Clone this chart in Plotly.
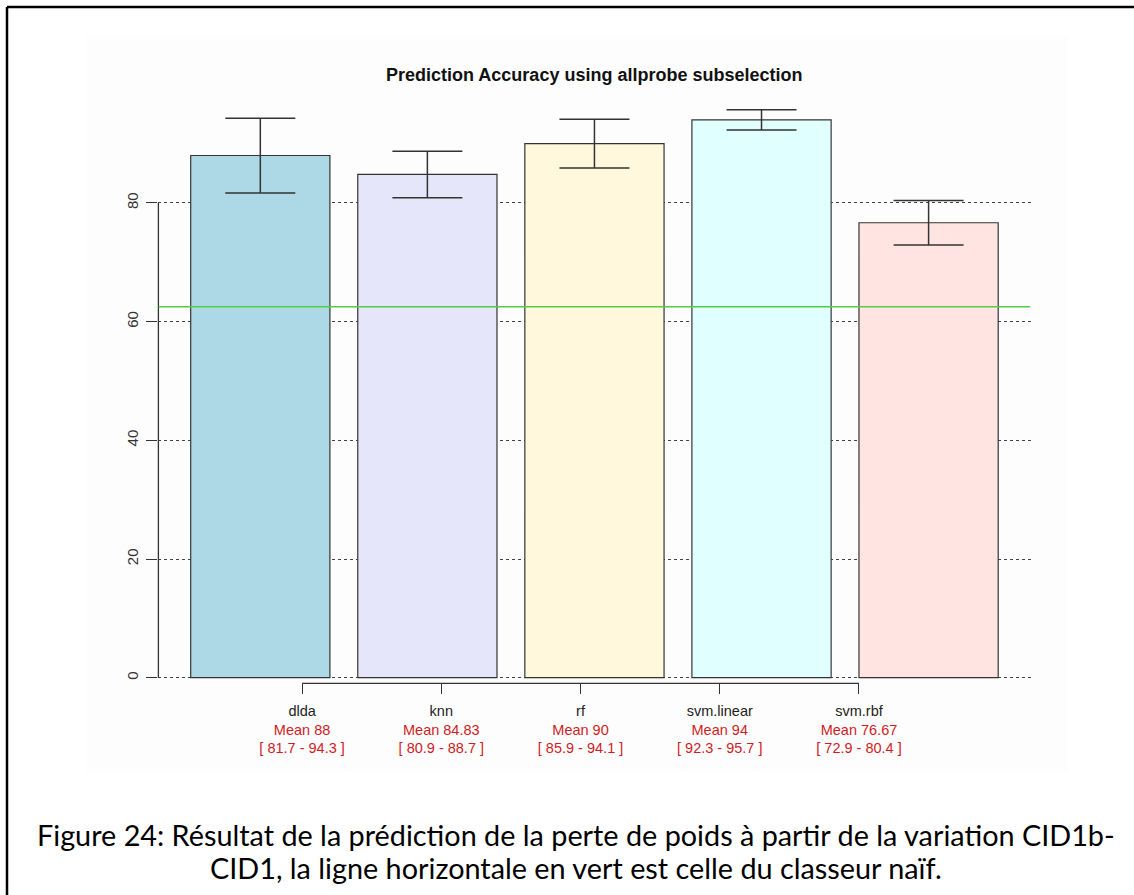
import plotly.graph_objects as go

# ---- data ----
methods = ["dlda", "knn", "rf", "svm.linear", "svm.rbf"]
means = [88, 84.83, 90, 94, 76.67]
ci_low = [81.7, 80.9, 85.9, 92.3, 72.9]
ci_high = [94.3, 88.7, 94.1, 95.7, 80.4]
bar_colors = ["#ADD8E6", "#E6E6FA", "#FFF8DC", "#E0FFFF", "#FFE4E1"]
naive_accuracy = 62.5
y_ticks = [0, 20, 40, 60, 80]
title_text = "Prediction Accuracy using allprobe subselection"
caption_lines = [
    "Figure 24: Résultat de la prédiction de la perte de poids à partir de la variation CID1b-",
    "CID1, la ligne horizontale en vert est celle du classeur naïf.",
]

W, H = 1134, 895
RED = "#d01c24"

# R barplot geometry: width 1, space 0.2
space, bw = 0.2, 1.0
mids = [space + i * (bw + space) + bw / 2 for i in range(len(methods))]
label_pos = list(range(1, len(methods) + 1))

x_lo, x_hi = -0.032, 6.232
y_lo, y_hi = -0.94, 100
X_DOM = (158.4, 1030.5)
Y_DOM = (683.3, 84.3)

def px_x(p):
    return p / W

def px_y(p):
    return 1 - p / H

ticktext = [
    f"{m}<br><span style='color:{RED}'>Mean {v:g}</span>"
    f"<br><span style='color:{RED}'>[ {lo:.1f} - {hi:.1f} ]</span>"
    for m, v, lo, hi in zip(methods, means, ci_low, ci_high)
]

fig = go.Figure()
fig.add_trace(go.Bar(
    x=mids, y=means, width=bw,
    marker=dict(color=bar_colors, line=dict(color="#333333", width=1.2)),
    error_y=dict(
        type="data", symmetric=False,
        array=[h - m for h, m in zip(ci_high, means)],
        arrayminus=[m - l for m, l in zip(means, ci_low)],
        color="#333333", thickness=1.5, width=35,
    ),
    hoverinfo="skip",
))

shapes = [
    # faint background of the embedded R image
    dict(type="rect", xref="paper", yref="paper",
         x0=px_x(86), x1=px_x(1067), y0=px_y(772), y1=px_y(37),
         fillcolor="#fdfdfd", line=dict(width=0), layer="below"),
    # page border (top, left)
    dict(type="line", xref="paper", yref="paper",
         x0=px_x(7), x1=1, y0=px_y(7), y1=px_y(7),
         line=dict(color="black", width=2.5)),
    dict(type="line", xref="paper", yref="paper",
         x0=px_x(7), x1=px_x(7), y0=px_y(7), y1=0,
         line=dict(color="black", width=2.5)),
    # y axis line (0..80) at the left edge of the plot region
    dict(type="line", xref="paper", yref="y",
         x0=px_x(X_DOM[0]), x1=px_x(X_DOM[0]), y0=y_ticks[0], y1=y_ticks[-1],
         line=dict(color="#333333", width=1.3)),
    # x axis line (first..last label) at the bottom of the plot region
    dict(type="line", xref="x", yref="paper",
         x0=label_pos[0], x1=label_pos[-1], y0=px_y(Y_DOM[0]), y1=px_y(Y_DOM[0]),
         line=dict(color="#333333", width=1.3)),
    # naive classifier line
    dict(type="line", xref="x", yref="y",
         x0=x_lo, x1=x_hi, y0=naive_accuracy, y1=naive_accuracy,
         line=dict(color="#55cc44", width=1.5), layer="above"),
]

annotations = [
    dict(text=f"<b>{title_text}</b>", xref="paper", yref="paper",
         x=px_x(594), y=px_y(75), xanchor="center", yanchor="middle",
         showarrow=False, font=dict(family="Liberation Sans", size=18, color="#111111")),
]
for line, yp in zip(caption_lines, [835, 868]):
    annotations.append(dict(
        text=line, xref="paper", yref="paper",
        x=px_x(576), y=px_y(yp), xanchor="center", yanchor="middle",
        showarrow=False, font=dict(family="Lato", size=28.8, color="#000000")))

fig.update_layout(
    width=W, height=H,
    margin=dict(l=0, r=0, t=0, b=0),
    paper_bgcolor="white", plot_bgcolor="rgba(0,0,0,0)",
    showlegend=False,
    shapes=shapes, annotations=annotations,
    xaxis=dict(
        domain=[px_x(X_DOM[0]), px_x(X_DOM[1])], range=[x_lo, x_hi],
        tickmode="array", tickvals=label_pos, ticktext=ticktext,
        ticks="outside", ticklen=10, tickwidth=1.2, tickcolor="#333333",
        ticklabelstandoff=4,
        showgrid=False, zeroline=False, showline=False,
        tickfont=dict(family="Liberation Sans", size=14.5, color="#222222"),
    ),
    yaxis=dict(
        domain=[px_y(Y_DOM[0]), px_y(Y_DOM[1])], range=[y_lo, y_hi],
        tickmode="array", tickvals=y_ticks,
        ticks="outside", ticklen=11, tickwidth=1.2, tickcolor="#333333",
        tickangle=-90, ticklabelstandoff=2,
        showgrid=True, gridcolor="#444444", griddash="dot", gridwidth=1,
        zeroline=False, showline=False,
        tickfont=dict(family="Liberation Sans", size=15, color="#333333"),
    ),
)

fig.write_html("out.html", config={"displayModeBar": False},
               post_script="document.body.style.margin='0px';"
                           "document.body.style.overflow='hidden';")
